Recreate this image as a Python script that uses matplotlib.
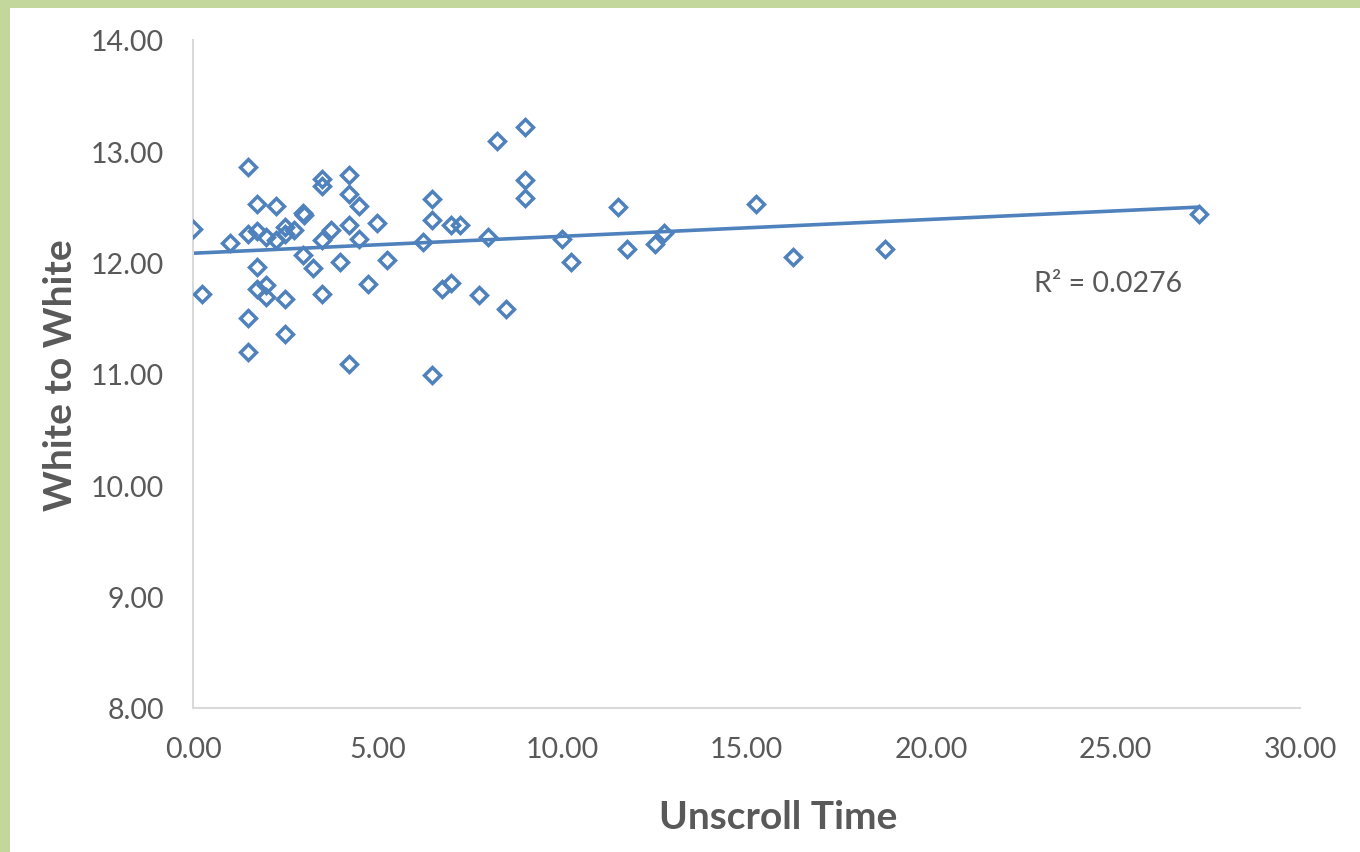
import matplotlib
matplotlib.use("Agg")
import matplotlib.pyplot as plt
from matplotlib.patches import Rectangle
import numpy as np

# Unscroll time vs white-to-white
unscroll_time = [
    0.00, 0.24, 1.00, 1.49, 1.49, 1.49, 1.49, 1.73, 1.73, 1.73,
    1.73, 1.98, 1.98, 1.98, 2.25, 2.25, 2.49, 2.49, 2.49, 2.49,
    2.74, 2.98, 3.00, 2.98, 3.25, 3.50, 3.50, 3.50, 3.50, 3.74,
    3.98, 4.23, 4.23, 4.23, 4.23, 4.50, 4.50, 4.74, 4.99, 5.26,
    6.23, 6.48, 6.48, 6.48, 6.75, 6.99, 6.99, 7.24, 7.75, 7.99,
    8.24, 8.48, 9.00, 9.00, 9.00, 10.00, 10.24, 11.52, 11.76, 12.52,
    12.76, 15.26, 16.26, 18.75, 27.26,
]
white_to_white = [
    12.30, 11.72, 12.18, 12.86, 12.26, 11.50, 11.20, 12.53, 12.28, 11.96,
    11.76, 12.23, 11.80, 11.69, 12.51, 12.20, 12.32, 12.26, 11.67, 11.36,
    12.29, 12.45, 12.43, 12.07, 11.95, 12.75, 12.69, 12.20, 11.72, 12.29,
    12.01, 12.79, 12.62, 12.34, 11.09, 12.51, 12.21, 11.81, 12.36, 12.02,
    12.19, 12.57, 12.38, 10.99, 11.76, 12.34, 11.82, 12.34, 11.71, 12.23,
    13.09, 11.58, 13.22, 12.74, 12.58, 12.21, 12.01, 12.50, 12.12, 12.17,
    12.27, 12.53, 12.05, 12.12, 12.44,
]
r_squared_label = "R² = 0.0276"

x_ticks = [0, 5, 10, 15, 20, 25, 30]
y_ticks = [8, 9, 10, 11, 12, 13, 14]

BLUE = "#4F81BD"
TEXT = "#595959"
AXIS = "#D9D9D9"

plt.rcParams["font.family"] = ["Lato", "DejaVu Sans"]

fig = plt.figure(figsize=(13.6, 8.53), dpi=100)
fig.patch.set_facecolor("#C3D69B")
# soft shadow + white chart area, like the framed Excel chart
fig.patches.append(Rectangle((12 / 1360, 0), 1, 1 - 12 / 853, transform=fig.transFigure,
                             facecolor="#A9B98A", edgecolor="none", zorder=0))
fig.patches.append(Rectangle((10 / 1360, 0), 1, 1 - 9 / 853, transform=fig.transFigure,
                             facecolor="white", edgecolor="none", zorder=0))

ax = fig.add_axes([193 / 1360, 1 - 709 / 853, (1300 - 193) / 1360, (709 - 41) / 853])
ax.set_facecolor("none")
ax.set_zorder(5)

x = np.array(unscroll_time)
y = np.array(white_to_white)
slope, intercept = np.polyfit(x, y, 1)
xs = np.array([x.min(), x.max()])
ax.plot(xs, slope * xs + intercept, color=BLUE, linewidth=2.6, zorder=2)

ax.plot(x, y, linestyle="none", marker="D", markersize=8.3, markerfacecolor="none",
        markeredgecolor=BLUE, markeredgewidth=2.5, zorder=3)

ax.text(22.8, 11.82, r_squared_label, color=TEXT, fontsize=20.5, va="center", ha="left")

ax.set_xlim(0, 30)
ax.set_ylim(8, 14)
ax.set_xticks(x_ticks)
ax.set_yticks(y_ticks)
ax.set_xticklabels([f"{v:.2f}" for v in x_ticks])
ax.set_yticklabels([f"{v:.2f}" for v in y_ticks])
ax.tick_params(length=0, labelsize=20.5, colors=TEXT)
ax.tick_params(axis="x", pad=20)
ax.tick_params(axis="y", pad=21)

for side in ("top", "right"):
    ax.spines[side].set_visible(False)
for side in ("left", "bottom"):
    ax.spines[side].set_color(AXIS)
    ax.spines[side].set_linewidth(1.5)

ax.set_xlabel("Unscroll Time", fontsize=28, fontweight="bold", color=TEXT)
ax.set_ylabel("White to White", fontsize=28, fontweight="bold", color=TEXT)
ax.xaxis.set_label_coords(0.529, -0.136)
ax.yaxis.set_label_coords(-0.104, 0.5)

fig.savefig("out.png", dpi=100, facecolor=fig.get_facecolor())
plt.close(fig)
